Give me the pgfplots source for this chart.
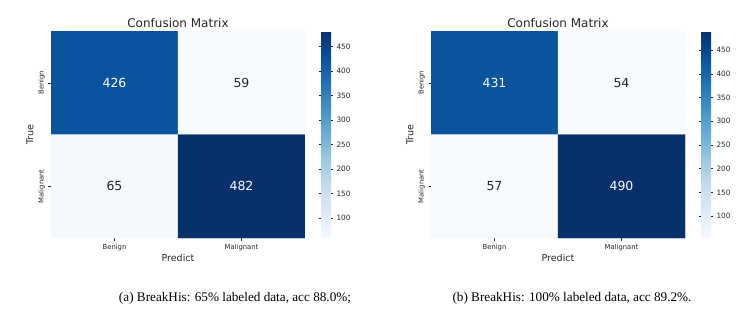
\documentclass[border=0pt]{standalone}
\usepackage{fontspec}
\setmainfont{DejaVu Sans}
\newfontfamily\capfont{Liberation Serif}
\usepackage{pgfplots}
\pgfplotsset{compat=1.18}

\definecolor{txt}{HTML}{262626}

% seaborn "Blues"
\pgfplotsset{
  colormap={blues}{rgb255=(247,251,255) rgb255=(222,235,247) rgb255=(198,219,239)
    rgb255=(158,202,225) rgb255=(107,174,214) rgb255=(66,146,198)
    rgb255=(33,113,181) rgb255=(8,81,156) rgb255=(8,48,107)},
  colorbar shift/.style={xshift=16pt},
  cm/.style={
    scale only axis, width=254pt, height=207pt,
    xmin=-0.5, xmax=1.5, ymin=-0.5, ymax=1.5, y dir=reverse,
    axis line style={draw=none},
    xtick={0,1}, ytick={0,1},
    xticklabels={Benign,Malignant}, yticklabels={Benign,Malignant},
    xtick pos=bottom, ytick pos=left, tick align=outside,
    major tick length=2.5pt, tick style={txt, line width=0.4pt},
    ticklabel style={font=\fontsize{6.8}{7}\selectfont, text=txt},
    yticklabel style={rotate=90, anchor=south},
    title={Confusion Matrix},
    title style={font=\fontsize{12}{14}\selectfont, text=txt, yshift=-6pt},
    xlabel={Predict}, ylabel={True},
    label style={font=\fontsize{9.5}{11}\selectfont, text=txt},
    xlabel style={yshift=3pt},
    ylabel style={yshift=-2pt},
    colorbar,
    colorbar style={
      at={(parent axis.north east)}, anchor=north west,
      width=10pt,
      ytick={100,150,...,450},
      axis line style={draw=none},
      tick align=outside, major tick length=2pt,
      tick style={txt, line width=0.4pt},
      yticklabel style={font=\fontsize{7.3}{8}\selectfont, text=txt},
      /pgf/number format/assume math mode=true,
    },
    /pgf/number format/assume math mode=true,
  },
  lab/.style={only marks, mark=none, nodes near coords, point meta=explicit symbolic,
    nodes near coords style={anchor=center, font=\fontsize{12.5}{14}\selectfont}},
}

\pgfplotstableread{
x y c
0 0 426
1 0 59
0 1 65
1 1 482
}\cmA
\pgfplotstableread{
x y c
0 0 431
1 0 54
0 1 57
1 1 490
}\cmB

\begin{document}
\begin{tikzpicture}
\useasboundingbox (0,0) rectangle (756pt,322pt);

\begin{axis}[cm, at={(51pt,84pt)}, anchor=south west,
  point meta min=59, point meta max=482]
\addplot[matrix plot*, mesh/cols=2, point meta=explicit] table[x=x, y=y, meta=c] {\cmA};
\addplot[lab, nodes near coords style={text=white}] coordinates {(0,0)[426] (1,1)[482]};
\addplot[lab, nodes near coords style={text=txt}] coordinates {(1,0)[59] (0,1)[65]};
\end{axis}

\begin{axis}[cm, at={(431pt,84pt)}, anchor=south west,
  point meta min=54, point meta max=490]
\addplot[matrix plot*, mesh/cols=2, point meta=explicit] table[x=x, y=y, meta=c] {\cmB};
\addplot[lab, nodes near coords style={text=white}] coordinates {(0,0)[431] (1,1)[490]};
\addplot[lab, nodes near coords style={text=txt}] coordinates {(1,0)[54] (0,1)[57]};
\end{axis}

\node[font=\capfont\fontsize{13.2}{15}\selectfont] at (235pt,24pt) {(a) BreakHis: 65\% labeled data, acc 88.0\%;};
\node[font=\capfont\fontsize{13.2}{15}\selectfont] at (572pt,24pt) {(b) BreakHis: 100\% labeled data, acc 89.2\%.};
\end{tikzpicture}
\end{document}
